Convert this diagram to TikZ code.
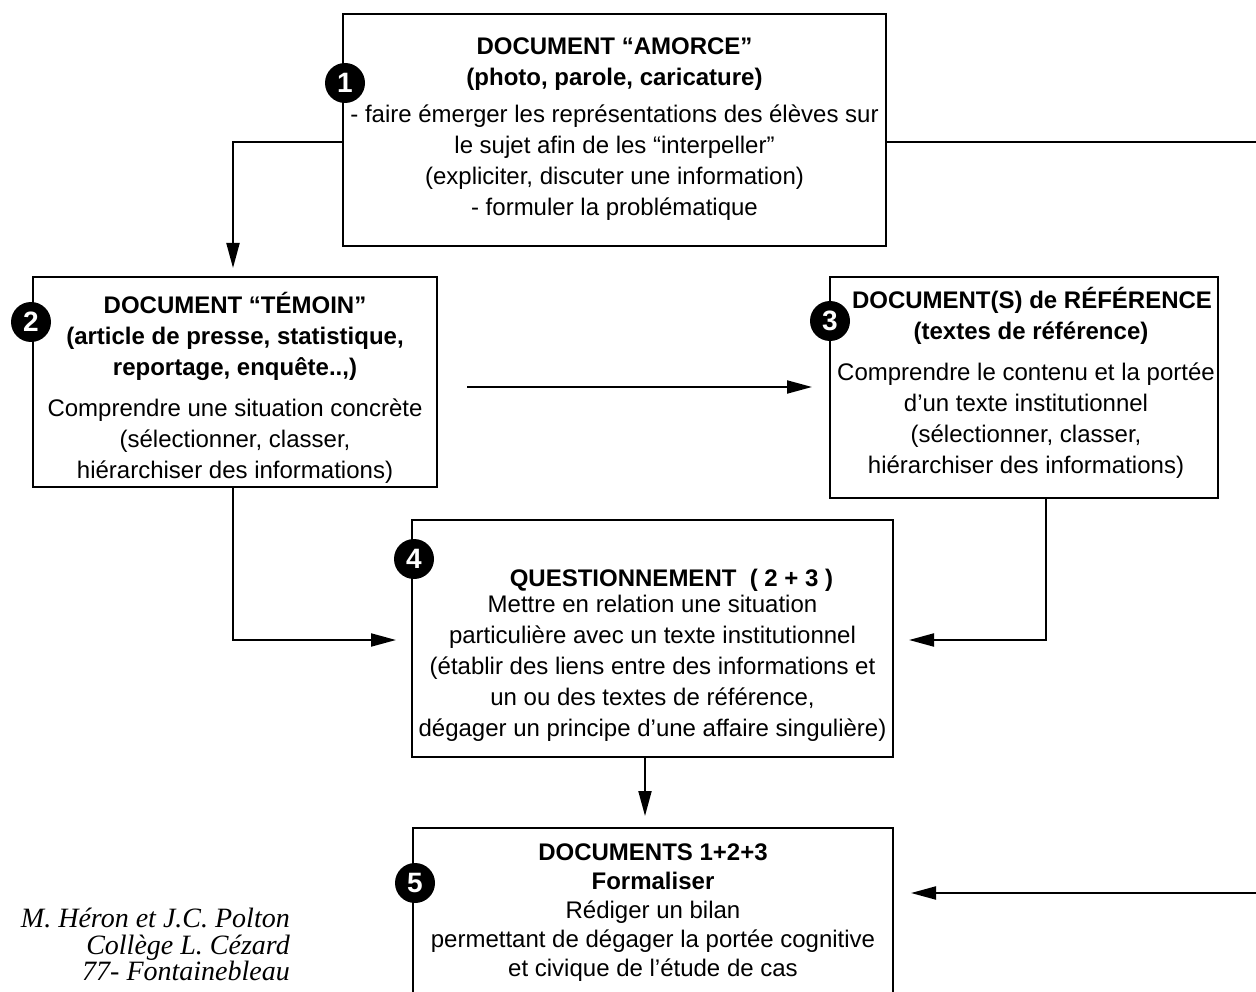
\documentclass[tikz,border=0pt]{standalone}
\usepackage{fontspec}
\setmainfont{Liberation Sans}
\newfontfamily\sigfont{Liberation Serif}
\usetikzlibrary{arrows.meta}
\begin{document}
\begin{tikzpicture}[x=1pt,y=1pt,
  box/.style={draw, line width=2pt, inner sep=0pt},
  txt/.style={anchor=north, align=center, inner sep=0pt, font=\fontsize{24}{31}\selectfont},
  num/.style={circle, fill=black, minimum size=40pt, inner sep=0pt, text=white, font=\bfseries\fontsize{28}{28}\selectfont},
  arr/.style={line width=2pt, -{Triangle[length=25pt,width=13pt]}},
  ln/.style={line width=2pt}]
\useasboundingbox (0,0) rectangle (1256,-992);
\clip (0,0) rectangle (1256,-992);
% boxes
\node[box, minimum width=543pt, minimum height=232pt] (b1) at (614.5,-130) {};
\node[box, minimum width=404pt, minimum height=210pt] (b2) at (235,-382) {};
\node[box, minimum width=388pt, minimum height=221pt] (b3) at (1024,-387.5) {};
\node[box, minimum width=481pt, minimum height=237pt] (b4) at (652.5,-638.5) {};
\node[box, minimum width=480pt, minimum height=190pt] (b5) at (653,-923) {};
% texts
\node[txt] (t1) at (614.5,-32) {\rule{0pt}{22pt}\textbf{DOCUMENT “AMORCE”}\\\textbf{(photo, parole, caricature)}\\[6pt]- faire émerger les représentations des élèves sur\\le sujet afin de les “interpeller”\\(expliciter, discuter une information)\\- formuler la problématique};
\node[txt] (t2) at (235,-291) {\rule{0pt}{22pt}\textbf{DOCUMENT “TÉMOIN”}\\\textbf{(article de presse, statistique,}\\\textbf{reportage, enquête..,)}\\[10pt]Comprendre une situation concrète\\(sélectionner, classer,\\hiérarchiser des informations)};
\node[txt] (t3) at (1026,-286) {\rule{0pt}{22pt}\hspace*{12pt}\textbf{DOCUMENT(S) de RÉFÉRENCE}\\\hspace*{10pt}\textbf{(textes de référence)}\\[10pt]Comprendre le contenu et la portée\\d’un texte institutionnel\\(sélectionner, classer,\\hiérarchiser des informations)};
\node[txt] (t4) at (652.5,-564) {\rule{0pt}{22pt}\hspace*{38pt}\textbf{QUESTIONNEMENT\ \ ( 2 + 3 )}\\[-5pt]Mettre en relation une situation\\particulière avec un texte institutionnel\\(établir des liens entre des informations et\\un ou des textes de référence,\\dégager un principe d’une affaire singulière)};
\node[txt, font=\fontsize{24}{29}\selectfont] (t5) at (653,-838) {\rule{0pt}{22pt}\textbf{DOCUMENTS 1+2+3}\\\textbf{Formaliser}\\Rédiger un bilan\\permettant de dégager la portée cognitive\\et civique de l’étude de cas};
\node[anchor=north east, align=right, inner sep=0pt, font=\sigfont\itshape\fontsize{28}{26.5}\selectfont] (sig) at (290,-908) {M. Héron et J.C. Polton\\Collège L. Cézard\\77- Fontainebleau};
% connectors
\coordinate (c1) at (233,-142);
\coordinate (r1) at (1260,-142);
\draw[arr, shorten >=8pt] (b1.west |- c1) -- (c1) -- (c1 |- b2.north);
\draw[ln] (b1.east |- r1) -- (r1);
\coordinate (a23) at (0,-387);
\draw[arr, shorten <=29pt, shorten >=17pt] (b2.east |- a23) -- (b3.west |- a23);
\coordinate (m2) at (233,-640);
\draw[arr, shorten >=15pt] (b2.south -| m2) -- (m2) -- (b4.west |- m2);
\coordinate (m3) at (1046,-640);
\draw[arr, shorten >=15pt] (b3.south -| m3) -- (m3) -- (b4.east |- m3);
\coordinate (k4) at (645,0);
\draw[arr, shorten >=11pt] (b4.south -| k4) -- (b5.north -| k4);
\coordinate (r5) at (1260,-893);
\draw[arr, shorten >=17pt] (r5) -- (b5.east |- r5);
% numbers
\node[num] (n1) at (345,-83) {1};
\node[num] (n2) at (31,-322) {2};
\node[num] (n3) at (830,-321) {3};
\node[num] (n4) at (414,-559) {4};
\node[num] (n5) at (415,-883) {5};
\end{tikzpicture}
\end{document}
